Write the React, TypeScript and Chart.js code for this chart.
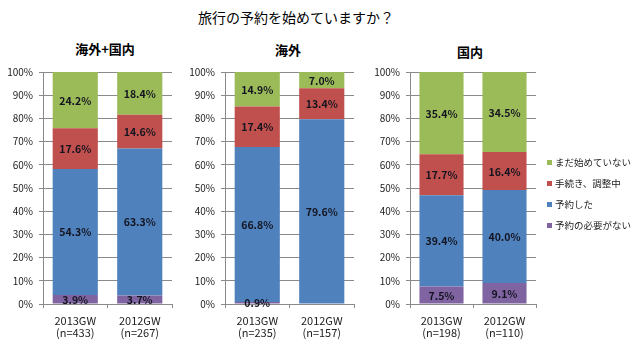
import React, { useEffect, useRef } from "react";
import { Chart, registerables } from "chart.js";

Chart.register(...registerables);

// ---- Data ----
const mainTitle = "旅行の予約を始めていますか？";
const panelTitles = ["海外+国内", "海外", "国内"];
const seriesNames = ["予約の必要がない", "予約した", "手続き、調整中", "まだ始めていない"];
const seriesColors = ["#8064A2", "#4F81BD", "#C0504D", "#9BBB59"];

const categoriesAll = [["2013GW", "(n=433)"], ["2012GW", "(n=267)"]];
const categoriesOverseas = [["2013GW", "(n=235)"], ["2012GW", "(n=157)"]];
const categoriesDomestic = [["2013GW", "(n=198)"], ["2012GW", "(n=110)"]];

const allNoNeed = [3.9, 3.7];
const allBooked = [54.3, 63.3];
const allArranging = [17.6, 14.6];
const allNotStarted = [24.2, 18.4];

const overseasNoNeed = [0.9, 0];
const overseasBooked = [66.8, 79.6];
const overseasArranging = [17.4, 13.4];
const overseasNotStarted = [14.9, 7.0];

const domesticNoNeed = [7.5, 9.1];
const domesticBooked = [39.4, 40.0];
const domesticArranging = [17.7, 16.4];
const domesticNotStarted = [35.4, 34.5];

const yMin = 0;
const yMax = 100;
const yStep = 10;

const FONT = '"Noto Sans CJK JP", "Noto Sans", sans-serif';
const GRID = "#8a8a8a";
const TEXT = "#222222";

const valueLabels = {
  id: "valueLabels",
  afterDatasetsDraw(chart: any) {
    const ctx = chart.ctx;
    ctx.save();
    ctx.font = `bold 10.5px ${FONT}`;
    ctx.fillStyle = "#141420";
    ctx.textAlign = "center";
    ctx.textBaseline = "middle";
    chart.data.datasets.forEach((ds: any, i: number) => {
      const meta = chart.getDatasetMeta(i);
      meta.data.forEach((el: any, j: number) => {
        const v = ds.data[j];
        if (!v) return;
        const p = el.getProps(["x", "y", "base"], true);
        ctx.fillText(v.toFixed(1) + "%", p.x, (p.y + p.base) / 2 + 0.5);
      });
    });
    ctx.restore();
  },
};

type PanelProps = {
  left: number;
  top: number;
  width: number;
  height: number;
  labels: string[][];
  values: number[][];
  padLeft: number;
  padRight: number;
};

function Panel(props: PanelProps) {
  const ref = useRef<HTMLCanvasElement | null>(null);
  useEffect(() => {
    if (!ref.current) return;
    const chart = new Chart(ref.current, {
      type: "bar",
      data: {
        labels: props.labels,
        datasets: seriesNames.map((name, i) => ({
          label: name,
          data: props.values[i],
          backgroundColor: seriesColors[i],
          borderColor: seriesColors[i],
          borderWidth: 0,
          barPercentage: 0.7,
          categoryPercentage: 1.0,
        })),
      },
      options: {
        animation: false,
        responsive: false,
        layout: {
          padding: { left: props.padLeft, right: props.padRight, top: 12, bottom: 6 },
        },
        plugins: {
          tooltip: { enabled: false },
          title: { display: false },
          legend: { display: false },
        },
        scales: {
          x: {
            stacked: true,
            grid: {
              display: true,
              drawOnChartArea: false,
              offset: true,
              tickLength: 4,
              color: GRID,
            },
            border: { color: GRID },
            ticks: {
              color: TEXT,
              padding: 7,
              maxRotation: 0,
              autoSkip: false,
              font: { size: 11, family: FONT, lineHeight: 1.1 },
            },
            afterFit: (s: any) => {
              s.height = 45;
            },
          },
          y: {
            stacked: true,
            min: yMin,
            max: yMax,
            grid: { color: GRID, tickLength: 4 },
            border: { color: GRID },
            ticks: {
              stepSize: yStep,
              padding: 6,
              color: TEXT,
              font: { size: 10, family: FONT },
              callback: (v: any) => v + "%",
            },
            afterFit: (s: any) => {
              s.width = 40;
            },
          },
        },
      },
      plugins: [valueLabels],
    } as any);
    return () => chart.destroy();
  }, []);
  return (
    <canvas
      ref={ref}
      width={props.width}
      height={props.height}
      style={{ position: "absolute", left: props.left, top: props.top, width: props.width, height: props.height }}
    />
  );
}

export default function App() {
  const titleStyle: React.CSSProperties = {
    position: "absolute",
    fontFamily: FONT,
    fontWeight: "bold",
    fontSize: 13,
    lineHeight: "16px",
    textAlign: "center",
    width: 120,
    color: "#000",
    whiteSpace: "nowrap",
  };
  const legendOrder = [3, 2, 1, 0];
  return (
    <div
      style={{
        position: "absolute",
        left: 0,
        top: 0,
        width: 640,
        height: 355,
        overflow: "hidden",
        background: "#fff",
      }}
    >
      <div
        style={{
          position: "absolute",
          left: 146,
          top: 7,
          width: 300,
          textAlign: "center",
          fontFamily: FONT,
          fontSize: 14,
          lineHeight: "20px",
          color: "#000",
        }}
      >
        {mainTitle}
      </div>
      <div style={{ ...titleStyle, left: 105 - 60, top: 41 }}>{panelTitles[0]}</div>
      <div style={{ ...titleStyle, left: 288 - 60, top: 42 }}>{panelTitles[1]}</div>
      <div style={{ ...titleStyle, left: 470 - 60, top: 44 }}>{panelTitles[2]}</div>
      <Panel
        left={0}
        top={60}
        width={185}
        height={295}
        labels={categoriesAll}
        values={[allNoNeed, allBooked, allArranging, allNotStarted]}
        padLeft={3}
        padRight={13}
      />
      <Panel
        left={185}
        top={60}
        width={185}
        height={295}
        labels={categoriesOverseas}
        values={[overseasNoNeed, overseasBooked, overseasArranging, overseasNotStarted]}
        padLeft={0}
        padRight={16}
      />
      <Panel
        left={370}
        top={60}
        width={270}
        height={295}
        labels={categoriesDomestic}
        values={[domesticNoNeed, domesticBooked, domesticArranging, domesticNotStarted]}
        padLeft={0}
        padRight={104}
      />
      {legendOrder.map((idx, k) => (
        <div
          key={idx}
          style={{
            position: "absolute",
            left: 547,
            top: 155 + k * 21,
            height: 14,
            display: "flex",
            alignItems: "center",
            fontFamily: FONT,
            fontSize: 9.5,
            lineHeight: "14px",
            color: TEXT,
            whiteSpace: "nowrap",
          }}
        >
          <span
            style={{
              display: "inline-block",
              width: 5,
              height: 5,
              background: seriesColors[idx],
              marginRight: 3,
            }}
          />
          {seriesNames[idx]}
        </div>
      ))}
    </div>
  );
}
